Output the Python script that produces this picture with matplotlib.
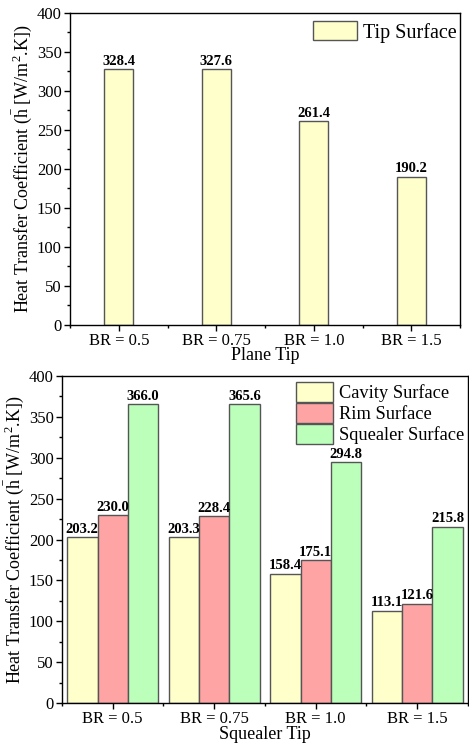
import numpy as np
import matplotlib.pyplot as plt
from matplotlib.ticker import MultipleLocator, FixedLocator

plt.rcParams['font.family'] = ['Liberation Serif', 'DejaVu Serif']
plt.rcParams['mathtext.fontset'] = 'custom'
plt.rcParams['mathtext.rm'] = 'Liberation Serif'
plt.rcParams['mathtext.it'] = 'Liberation Serif:italic'

# data
categorias = ['BR = 0.5', 'BR = 0.75', 'BR = 1.0', 'BR = 1.5']
tip_surface = [328.4, 327.6, 261.4, 190.2]
cavity_surface = [203.2, 203.3, 158.4, 113.1]
rim_surface = [230.0, 228.4, 175.1, 121.6]
squealer_surface = [366.0, 365.6, 294.8, 215.8]

cor_amarelo = '#ffffcc'
cor_vermelho = '#ffa4a4'
cor_verde = '#bbffbb'
cor_borda = '#555555'

ylabel = r'Heat Transfer Coefficient ($\bar{\mathrm{h}}$ [W/m$^\mathrm{2}$.K])'

fig = plt.figure(figsize=(4.69, 7.49), dpi=100)
ax1 = fig.add_axes([0.1493, 0.5661, 0.8316, 0.4166])
ax2 = fig.add_axes([0.1322, 0.0614, 0.8656, 0.4366])

x = np.arange(len(categorias))
w = 0.3


def estilo(ax, xlabel, pad):
    ax.set_xlim(-0.5, 3.5)
    ax.set_ylim(0, 400)
    ax.set_xticks(x)
    ax.set_xticklabels(categorias)
    ax.xaxis.set_minor_locator(FixedLocator([-0.5, 0.5, 1.5, 2.5, 3.5]))
    ax.yaxis.set_major_locator(MultipleLocator(50))
    ax.yaxis.set_minor_locator(MultipleLocator(25))
    ax.tick_params(axis='both', which='major', direction='out', length=4, width=1, labelsize=12, pad=2)
    ax.tick_params(axis='both', which='minor', direction='out', length=2, width=1)
    ax.set_xlabel(xlabel, fontsize=13, labelpad=pad)
    ax.set_ylabel(ylabel, fontsize=13, labelpad=2)
    for s in ax.spines.values():
        s.set_linewidth(1)


# Plane tip
ax1.bar(x, tip_surface, w, color=cor_amarelo, edgecolor=cor_borda, linewidth=1, label='Tip Surface')
for xi, v in zip(x, tip_surface):
    ax1.text(xi, v + 1.5, f'{v:.1f}', ha='center', va='bottom', fontsize=10.5, fontweight='bold')
estilo(ax1, 'Plane Tip', -2)
ax1.legend(loc='upper right', frameon=False, fontsize=14.5, handlelength=2.2, handleheight=1.1,
           borderaxespad=0.0, handletextpad=0.3, bbox_to_anchor=(1.012, 1.0))

# Squealer tip
series = [(cavity_surface, cor_amarelo, 'Cavity Surface'),
          (rim_surface, cor_vermelho, 'Rim Surface'),
          (squealer_surface, cor_verde, 'Squealer Surface')]
for i, (vals, cor, nome) in enumerate(series):
    pos = x + (i - 1) * w
    ax2.bar(pos, vals, w, color=cor, edgecolor=cor_borda, linewidth=1, label=nome)
    for xi, v in zip(pos, vals):
        ax2.text(xi, v + 1.5, f'{v:.1f}', ha='center', va='bottom', fontsize=10.5, fontweight='bold')
estilo(ax2, 'Squealer Tip', -1)
ax2.legend(loc='upper right', frameon=False, fontsize=13.2, handlelength=2.0, handleheight=1.3,
           borderaxespad=0.0, handletextpad=0.3, labelspacing=0.05, bbox_to_anchor=(1.008, 1.005))

plt.savefig('out.png', dpi=100)
